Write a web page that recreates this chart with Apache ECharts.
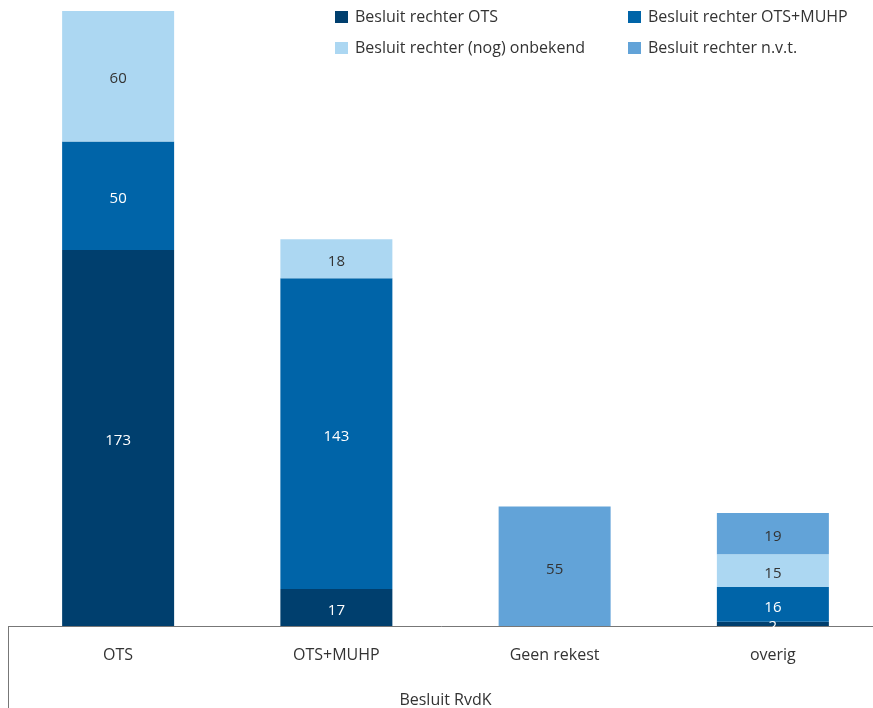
<!DOCTYPE html>
<html><head><meta charset="utf-8">
<script src="https://cdn.jsdelivr.net/npm/echarts@6/dist/echarts.min.js"></script>
<style>html,body{margin:0;padding:0;background:#fff}#c{width:873px;height:708px}</style>
</head><body><div id="c"></div>
<script>
const categories = ['OTS', 'OTS+MUHP', 'Geen rekest', 'overig'];
const seriesNames = ['Besluit rechter OTS', 'Besluit rechter OTS+MUHP', 'Besluit rechter (nog) onbekend', 'Besluit rechter n.v.t.'];
const valOTS = [173, 17, null, 2];
const valOTSMUHP = [50, 143, null, 16];
const valOnbekend = [60, 18, null, 15];
const valNvt = [null, null, 55, 19];
const colors = ['#003f6e', '#0064a8', '#acd7f2', '#62a3d8'];
const labelColors = ['#ffffff', '#ffffff', '#333333', '#333333'];
const axisName = 'Besluit RvdK';

const font = '"Open Sans", "Noto Sans", sans-serif';
const data = [valOTS, valOTSMUHP, valOnbekend, valNvt];
const chart = echarts.init(document.getElementById('c'));
const legendText = {fontSize: 16, color: '#333', fontFamily: font, padding: [0, 0, 0, 2]};
chart.setOption({
  animation: false,
  textStyle: {fontFamily: font},
  legend: [
    {data: [seriesNames[0], seriesNames[2]], orient: 'vertical', left: 335, top: 9, padding: 0, itemWidth: 13, itemHeight: 12, itemGap: 15, icon: 'rect', textStyle: legendText},
    {data: [seriesNames[1], seriesNames[3]], orient: 'vertical', left: 628, top: 9, padding: 0, itemWidth: 13, itemHeight: 12, itemGap: 15, icon: 'rect', textStyle: legendText}
  ],
  grid: {left: 9, width: 873, top: 11, height: 615, containLabel: false, outerBoundsMode: 'none'},
  xAxis: {
    type: 'category', data: categories,
    axisLine: {lineStyle: {color: '#777', width: 1}},
    axisTick: {show: false},
    axisLabel: {fontSize: 16, color: '#333', margin: 21, fontFamily: font},
    name: axisName, nameLocation: 'middle', nameGap: 66,
    nameTextStyle: {fontSize: 16, color: '#333', fontFamily: font}
  },
  yAxis: {type: 'value', min: 0, max: 283, show: false, splitLine: {show: false}},
  graphic: [{type: 'line', shape: {x1: 8.5, y1: 626, x2: 8.5, y2: 708}, style: {stroke: '#777', lineWidth: 1}}],
  series: seriesNames.map((n, i) => ({
    name: n, type: 'bar', stack: 'a', data: data[i], barWidth: 112,
    itemStyle: {color: colors[i]},
    label: {show: true, position: 'inside', offset: [0, 3], color: labelColors[i], fontSize: 15, fontFamily: font}
  }))
});
</script></body></html>
